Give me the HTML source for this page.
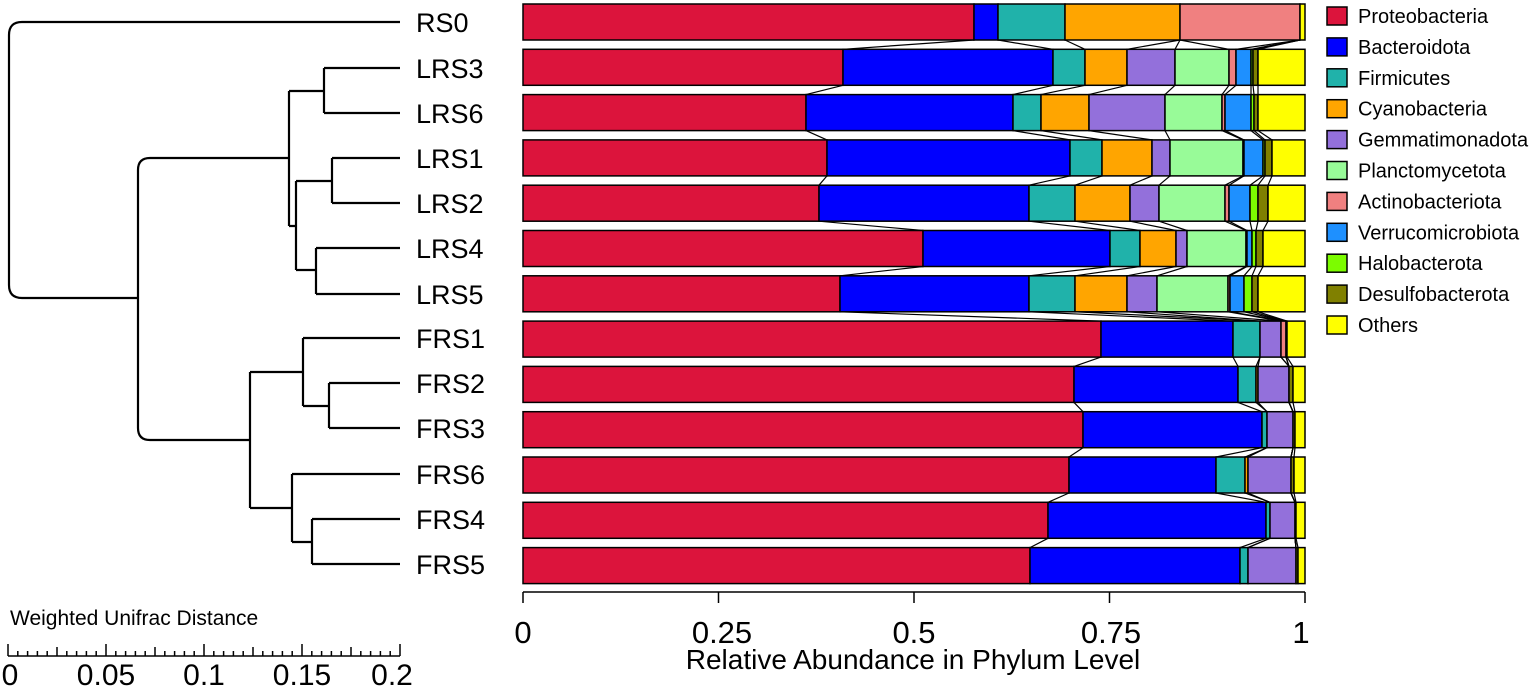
<!DOCTYPE html>
<html><head><meta charset="utf-8"><style>
html,body{margin:0;padding:0;background:#fff;}
svg{display:block;font-family:"Liberation Sans",Arial,sans-serif;}
</style></head><body>
<svg id="s" width="1535" height="689" viewBox="0 0 1535 689" xmlns="http://www.w3.org/2000/svg">
<g fill="none" stroke="#000" stroke-width="2.2" stroke-linejoin="round">
<path d="M400,22 H22 Q9,22 9,35 V285 Q9,298 22,298 H138"/>
<path d="M289,158 H150 Q138,158 138,170 V428 Q138,440 150,440 H250"/>
<path d="M324,68 V113 M324,68 H400 M324,113 H400 M289,91 H324 M289,91 V226 M289,226 H296"/>
<path d="M296,181 V270 M296,181 H332 M332,158 V203 M332,158 H400 M332,203 H400 M296,270 H316 M316,248 V294 M316,248 H400 M316,294 H400"/>
<path d="M250,372 V508 M250,372 H303 M303,338 V406 M303,338 H400 M303,406 H329 M329,383 V428 M329,383 H400 M329,428 H400"/>
<path d="M250,508 H292 M292,474 V542 M292,474 H400 M292,542 H312 M312,519 V564 M312,519 H400 M312,564 H400"/>
</g>
<g font-size="27" fill="#000">
<text x="416" y="32">RS0</text><text x="416" y="78">LRS3</text><text x="416" y="123">LRS6</text>
<text x="416" y="168">LRS1</text><text x="416" y="213">LRS2</text><text x="416" y="258">LRS4</text>
<text x="416" y="304">LRS5</text><text x="416" y="348">FRS1</text><text x="416" y="393">FRS2</text>
<text x="416" y="438">FRS3</text><text x="416" y="484">FRS6</text><text x="416" y="529">FRS4</text>
<text x="416" y="574">FRS5</text>
</g>
<text x="10" y="625" font-size="21">Weighted Unifrac Distance</text>
<g id="scale" stroke="#000" stroke-width="1.5"></g>
<g font-size="30" text-anchor="middle"><text x="10" y="685">0</text><text x="106" y="685">0.05</text><text x="204" y="685">0.1</text><text x="302" y="685">0.15</text><text x="392" y="685">0.2</text></g>
<g id="conn" stroke="#000" stroke-width="1.2" fill="none"></g>
<g id="bars" stroke="#000" stroke-width="1.5"></g>
<g stroke="#000" stroke-width="1.5"><line x1="523" y1="592" x2="1305" y2="592"/>
<line x1="523" y1="592" x2="523" y2="603"/><line x1="718.5" y1="592" x2="718.5" y2="603"/><line x1="914" y1="592" x2="914" y2="603"/><line x1="1109.5" y1="592" x2="1109.5" y2="603"/><line x1="1305" y1="592" x2="1305" y2="603"/></g>
<g font-size="31" text-anchor="middle"><text x="523" y="643">0</text><text x="722" y="643">0.25</text><text x="914" y="643">0.5</text><text x="1111" y="643">0.75</text><text x="1301" y="643">1</text></g>
<text x="913" y="669" font-size="28" text-anchor="middle">Relative Abundance in Phylum Level</text>
<g id="leg" font-size="20"></g>
</svg>
<script>
(function(){
var C=["#DC143C","#0000FF","#20B2AA","#FFA500","#9370DB","#98FB98","#F08080","#1E90FF","#7CFC00","#808000","#FFFF00"];
var N=["Proteobacteria","Bacteroidota","Firmicutes","Cyanobacteria","Gemmatimonadota","Planctomycetota","Actinobacteriota","Verrucomicrobiota","Halobacterota","Desulfobacterota","Others"];
var D=[[974,998,1065,1180,1180,1180,1300,1300,1300,1300,1305],
[843,1053,1085,1127,1175,1229,1236,1251,1253,1258,1305],
[806,1013,1041,1089,1165,1222,1225,1251,1254,1258,1305],
[827,1070,1102,1152,1170,1243,1244,1263,1265,1272,1305],
[819,1029,1075,1130,1159,1225,1229,1250,1258,1268,1305],
[923,1110,1140,1176,1187,1246,1247,1252,1256,1263,1305],
[840,1029,1075,1127,1157,1228,1230,1244,1252,1258,1305],
[1101,1233,1260,1260,1281,1281,1286,1286,1286,1287,1305],
[1074,1238,1256,1258,1289,1289,1289,1289,1289,1293,1305],
[1083,1262,1267,1267,1293,1293,1293,1293,1293,1295,1305],
[1069,1216,1245,1248,1291,1291,1291,1291,1291,1294,1305],
[1048,1266,1270,1270,1295,1295,1295,1295,1295,1296,1305],
[1030,1240,1248,1248,1296,1296,1296,1296,1296,1298,1305]];
var ns="http://www.w3.org/2000/svg";
function el(p,t,a){var e=document.createElementNS(ns,t);for(var k in a)e.setAttribute(k,a[k]);p.appendChild(e);return e;}
var bars=document.getElementById("bars"),conn=document.getElementById("conn");
var H=36;
for(var i=0;i<D.length;i++){var ty=4+45.3*i;var x0=523;
 for(var j=0;j<11;j++){var x1=D[i][j];if(x1>x0)el(bars,"rect",{x:x0,y:ty,width:x1-x0,height:H,fill:C[j]});x0=x1;}
 if(i<D.length-1){var nt=4+45.3*(i+1);
  for(var j=0;j<10;j++)el(conn,"line",{x1:D[i][j],y1:ty+H,x2:D[i+1][j],y2:nt});}
}
var sc=document.getElementById("scale");
el(sc,"line",{x1:8,y1:656,x2:400,y2:656});
for(var k=0;k<=40;k++){var x=8+392*k/40;var h=(k%10==0)?12:(k%5==0?9:5);el(sc,"line",{x1:x,y1:656,x2:x,y2:656-h});}
var leg=document.getElementById("leg");
for(var i=0;i<11;i++){var cy=16+30.9*i;
 el(leg,"rect",{x:1327,y:cy-9,width:20,height:18,fill:C[i],stroke:"#000","stroke-width":1.5});
 var t=el(leg,"text",{x:1358,y:cy+7});t.textContent=N[i];}
})();
</script>
</body></html>
